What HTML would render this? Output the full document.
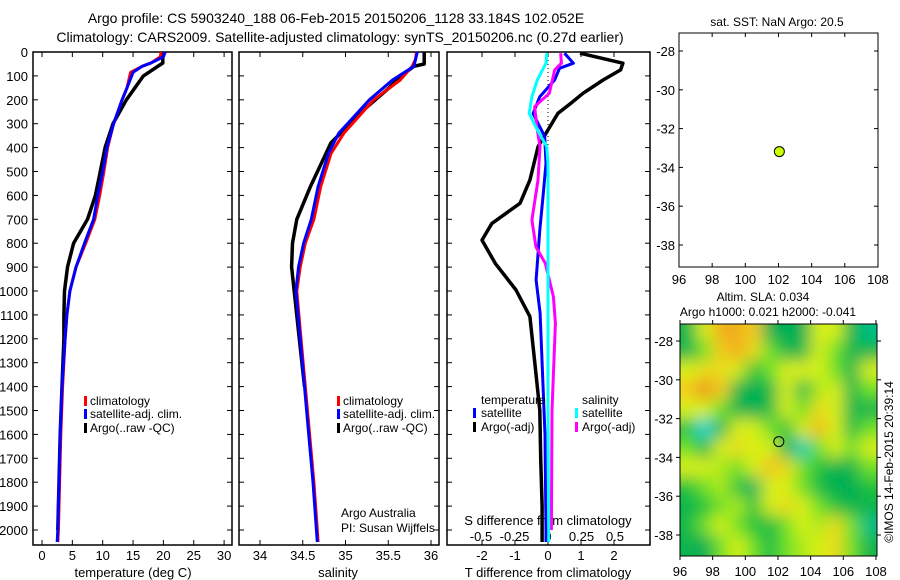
<!DOCTYPE html>
<html><head><meta charset="utf-8">
<style>
html,body{margin:0;padding:0;background:#fff;}
svg{display:block;font-family:"Liberation Sans",sans-serif;}
text{fill:#000;font-size:13px;}
</style></head>
<body>
<svg id="fig" width="900" height="580" viewBox="0 0 900 580" xmlns="http://www.w3.org/2000/svg">
<defs>
<filter id="blur" x="0" y="0" width="100%" height="100%"><feGaussianBlur stdDeviation="8"/></filter>
<clipPath id="mapclip"><rect x="680" y="324" width="197" height="232"/></clipPath>
</defs>
<text x="336" y="23" text-anchor="middle" style="font-size:14px">Argo profile: CS 5903240_188 06-Feb-2015 20150206_1128 33.184S 102.052E</text>
<text x="340" y="42" text-anchor="middle" style="font-size:14px">Climatology: CARS2009. Satellite-adjusted climatology: synTS_20150206.nc (0.27d earlier)</text>
<g id="layer"></g>
</svg>
<script>
// ---------- data ----------
const depthTicks = [0,100,200,300,400,500,600,700,800,900,1000,1100,1200,1300,1400,1500,1600,1700,1800,1900,2000];
const tempTicks = [0,5,10,15,20,25,30];
const salTicks = [34,34.5,35,35.5,36];
const salTickLabels = ["34","34.5","35","35.5","36"];
const tdiffTicks = [-2,-1,0,1,2];
const sdiffTicks = [-0.5,-0.25,0,0.25,0.5];
const sdiffTickLabels = ["-0.5","-0.25","0","0.25","0.5"];

const tDepthClim = [0,20,45,60,85,150,200,300,400,500,600,700,800,900,1000,1100,1200,1400,1600,1800,2000,2050];
const tempClim = [19.6,19.5,18.0,16.5,14.6,14.0,13.2,11.8,10.8,10.2,9.5,8.7,7.2,5.6,4.6,4.1,3.8,3.4,3.1,2.9,2.7,2.6];
const tempSat  = [20.3,20.0,18.0,16.5,15.0,14.0,13.2,11.8,10.7,10.0,9.2,8.5,7.0,5.6,4.6,4.1,3.8,3.3,3.0,2.8,2.6,2.5];
const tDepthArgo = [0,46,100,200,300,400,500,600,700,800,900,1000,1100,1200,1400,1600,1800,2000];
const tempArgo = [19.9,19.9,16.7,13.9,11.7,10.4,9.6,8.8,7.5,5.2,4.2,3.7,3.6,3.6,3.3,3.0,2.8,2.6];

const sDepth = [0,30,60,117,200,340,425,563,700,800,900,1000,1200,1400,1600,1800,2000,2050];
const salClim = [35.83,35.82,35.78,35.64,35.33,34.98,34.83,34.71,34.63,34.53,34.47,34.43,34.48,34.53,34.58,34.63,34.67,34.68];
const salSat  = [35.84,35.82,35.80,35.55,35.28,34.92,34.80,34.68,34.60,34.51,34.45,34.42,34.47,34.52,34.57,34.62,34.66,34.67];
const sDepthArgo = [0,50,60,100,160,243,380,563,700,800,900,1000,1200,1400];
const salArgo = [35.92,35.92,35.80,35.65,35.48,35.21,34.83,34.59,34.43,34.38,34.37,34.40,34.46,34.52];

const dDepthT = [5,47,75,117,173,208,257,326,396,536,633,717,787,884,996,1107,1300,1500,1700,1900,2050];
const tDiffArgo = [0.97,2.27,2.2,1.67,1.06,0.75,0.3,0.0,-0.3,-0.55,-0.85,-1.7,-2.0,-1.6,-0.97,-0.55,-0.4,-0.25,-0.22,-0.18,-0.18];
const dDepthTS = [5,47,68,117,187,257,354,466,605,745,954,1093,1300,1600,2000,2050];
const tDiffSat = [0.5,0.77,0.35,0.2,-0.25,-0.45,-0.1,-0.06,-0.15,-0.25,-0.36,-0.24,-0.18,-0.09,-0.06,-0.06];
const dDepthS = [5,47,117,187,257,326,396,466,605,884,1093,1500,2000,2050];
const sDiffSat = [-0.01,-0.015,-0.08,-0.12,-0.14,-0.08,-0.01,0.0,0.0,0.0,0.0,0.0,0.005,0.005];
const dDepthSA = [5,47,75,173,229,326,396,536,703,815,884,1024,1135,1500,2000];
const sDiffArgo = [0.095,0.1,0.05,0.01,-0.1,-0.08,-0.06,-0.075,-0.12,-0.09,-0.02,0.04,0.055,0.03,0.025];

const lonTicks = [96,98,100,102,104,106,108];
const latTicks = [-28,-30,-32,-34,-36,-38];
const floatLon = 102.052, floatLat = -33.184;
const slaLats = [-27,-28,-29,-30,-31,-32,-33,-34,-35,-36,-37,-38];
const slaLons = [96,97,98,99,100,101,102,103,104,105,106,107];
const slaRow0 = [-1,0.5,1.5,1.5,1,-1.2,-1.2,-1.2,0.5,0.5,-1,-1.5];
const slaRow1 = [-1,0,1,1.5,0.8,0,-1,-1,0.5,0,-1,-1];
const slaRow2 = [0.5,0.8,0.8,0.5,-0.5,0,0.5,0.5,0.5,0,-1,0.5];
const slaRow3 = [1,2,1,-1,-1.2,-1,0.5,-1,0.3,0.5,-1,0];
const slaRow4 = [0.5,0.5,0,-1,-1.2,-0.8,0.5,0,0.8,0.5,-1,-1];
const slaRow5 = [-0.5,-2,-1,0.5,0.5,0,-0.5,0.5,1.3,0.5,-0.8,0];
const slaRow6 = [0,-1,0.5,0.8,0.5,0.5,-1,-1.8,0,0.5,0,0.5];
const slaRow7 = [0.5,0.5,0.3,0,0.5,1.2,0.8,0,-0.5,-1,-1,0];
const slaRow8 = [-0.5,0,0.3,-0.5,-1.3,0.5,0.5,0,-0.8,-1.2,-1.2,-0.5];
const slaRow9 = [-1,-0.5,0,0.3,-0.5,0.5,0.8,0.5,0,-0.5,-1,-1];
const slaRow10 = [-0.8,0,0.5,0,-0.5,-0.8,0,0.5,0.3,0.8,0,-1.5];
const slaRow11 = [-1,-1.2,0,0.5,0,-0.8,0,0.3,0.5,0.8,0,-1];
const slaGrid = [slaRow0,slaRow1,slaRow2,slaRow3,slaRow4,slaRow5,slaRow6,slaRow7,slaRow8,slaRow9,slaRow10,slaRow11];

// ---------- helpers ----------
const NS = "http://www.w3.org/2000/svg";
const layer = document.getElementById('layer');
function mk(tag, attrs, parent) {
  const e = document.createElementNS(NS, tag);
  for (const k in attrs) e.setAttribute(k, attrs[k]);
  (parent || layer).appendChild(e);
  return e;
}
const TOP = 52, BOT = 545;
const yD = d => TOP + d * 0.239;
const xT = t => 42 + 6.07 * t;
const xS = s => 260 + 85.5 * (s - 34);
const xTd = v => 548 + 33 * v;
const xSd = v => 548 + 134 * v;

function frame(x0, x1, name) {
  const r = mk('rect', {x:x0, y:TOP, width:x1-x0, height:BOT-TOP, fill:'none', stroke:'#000', 'stroke-width':1.5});
  
  
  depthTicks.forEach(d => {
    mk('line', {x1:x0, x2:x0+5, y1:yD(d), y2:yD(d), stroke:'#000'});
    mk('line', {x1:x1, x2:x1-5, y1:yD(d), y2:yD(d), stroke:'#000'});
  });
}
function stepLine(xs, ds, fx, color, name, w) {
  let p = '';
  for (let i = 0; i < xs.length; i++) p += (i ? 'L' : 'M') + fx(xs[i]).toFixed(1) + ',' + yD(ds[i]).toFixed(1);
  const e = mk('path', {d:p, fill:'none', stroke:color, 'stroke-width':w || 3, 'stroke-linejoin':'round'});
  
  
}
function txt(x, y, s, name, anchor, size) {
  const e = mk('text', {x:x, y:y, 'text-anchor':anchor || 'start'});
  if (size) e.style.fontSize = size + 'px';
  e.textContent = s;
  
  
  return e;
}
function legendBar(x, y, color) {
  const e = mk('rect', {x:x, y:y-9, width:3, height:10, fill:color});
  
  
}

// ---------- panel 1: temperature ----------
frame(33, 232, 'temperature-plot-frame');
depthTicks.forEach(d => txt(28, yD(d) + 5, String(d), 'depth-tick-label', 'end'));
tempTicks.forEach(t => {
  mk('line', {x1:xT(t), x2:xT(t), y1:TOP, y2:TOP+5, stroke:'#000'});
  mk('line', {x1:xT(t), x2:xT(t), y1:BOT, y2:BOT-5, stroke:'#000'});
  txt(xT(t), 560, String(t), 'temperature-tick-label', 'middle');
});
txt(133, 577, 'temperature (deg C)', 'x-axis-title-temperature', 'middle');
stepLine(tempArgo, tDepthArgo, xT, '#000', 'argo-temperature-line', 3.5);
stepLine(tempClim, tDepthClim, xT, '#f00', 'climatology-temperature-line');
stepLine(tempSat, tDepthClim, xT, '#00f', 'satellite-temperature-line');
legendBar(84, 405, '#f00'); txt(90, 405, 'climatology', 'legend-climatology', 'start', 12);
legendBar(84, 418, '#00f'); txt(90, 418, 'satellite-adj. clim.', 'legend-satellite-adj', 'start', 12);
legendBar(84, 432, '#000'); txt(90, 432, 'Argo(..raw -QC)', 'legend-argo', 'start', 12);

// ---------- panel 2: salinity ----------
frame(239, 439, 'salinity-plot-frame');
salTicks.forEach((s, i) => {
  mk('line', {x1:xS(s), x2:xS(s), y1:TOP, y2:TOP+5, stroke:'#000'});
  mk('line', {x1:xS(s), x2:xS(s), y1:BOT, y2:BOT-5, stroke:'#000'});
  txt(xS(s), 560, salTickLabels[i], 'salinity-tick-label', 'middle');
});
txt(338, 577, 'salinity', 'x-axis-title-salinity', 'middle');
stepLine(salArgo, sDepthArgo, xS, '#000', 'argo-salinity-line', 3.5);
stepLine(salClim, sDepth, xS, '#f00', 'climatology-salinity-line');
stepLine(salSat, sDepth, xS, '#00f', 'satellite-salinity-line');
legendBar(337, 405, '#f00'); txt(343, 405, 'climatology', 'legend-climatology', 'start', 12);
legendBar(337, 418, '#00f'); txt(343, 418, 'satellite-adj. clim.', 'legend-satellite-adj', 'start', 12);
legendBar(337, 432, '#000'); txt(343, 432, 'Argo(..raw -QC)', 'legend-argo', 'start', 12);
txt(341, 517, 'Argo Australia', 'credit-argo-australia', 'start', 12);
txt(341, 532, 'PI: Susan Wijffels', 'credit-pi', 'start', 12);

// ---------- panel 3: differences ----------
frame(447, 650, 'difference-plot-frame');
mk('line', {x1:548, x2:548, y1:TOP, y2:BOT, stroke:'#000', 'stroke-dasharray':'1,3'});
tdiffTicks.forEach(v => {
  mk('line', {x1:xTd(v), x2:xTd(v), y1:BOT, y2:BOT-5, stroke:'#000'});
  mk('line', {x1:xTd(v), x2:xTd(v), y1:TOP, y2:TOP+5, stroke:'#000'});
  txt(xTd(v), 560, String(v), 'tdiff-tick-label', 'middle');
});
sdiffTicks.forEach((v, i) => txt(xSd(v), 541, sdiffTickLabels[i], 'sdiff-tick-label', 'middle'));
txt(548, 525, 'S difference from climatology', 'sdiff-axis-title', 'middle');
txt(548, 577, 'T difference from climatology', 'tdiff-axis-title', 'middle');
stepLine(tDiffArgo, dDepthT, xTd, '#000', 'argo-tdiff-line', 3.5);
stepLine(tDiffSat, dDepthTS, xTd, '#00f', 'satellite-tdiff-line');
stepLine(sDiffArgo, dDepthSA, xSd, '#f0f', 'argo-sdiff-line');
stepLine(sDiffSat, dDepthS, xSd, '#0ff', 'satellite-sdiff-line');
txt(481, 404, 'temperature', 'legend-title-temperature', 'start', 12);
legendBar(473, 417, '#00f'); txt(481, 417, 'satellite', 'legend-t-satellite', 'start', 12);
legendBar(473, 431, '#000'); txt(481, 431, 'Argo(-adj)', 'legend-t-argo', 'start', 12);
txt(582, 404, 'salinity', 'legend-title-salinity', 'start', 12);
legendBar(575, 417, '#0ff'); txt(582, 417, 'satellite', 'legend-s-satellite', 'start', 12);
legendBar(575, 431, '#f0f'); txt(582, 431, 'Argo(-adj)', 'legend-s-argo', 'start', 12);

// ---------- map 1: SST ----------
const m1x = lon => 679 + (lon - 96) * 16.58;
const m1y = lat => 51 + (-28 - lat) * 19.4;
const mf1 = mk('rect', {x:679, y:33, width:199, height:234, fill:'#fff', stroke:'#000'});


lonTicks.forEach(l => {
  mk('line', {x1:m1x(l), x2:m1x(l), y1:33, y2:37, stroke:'#000'});
  mk('line', {x1:m1x(l), x2:m1x(l), y1:267, y2:263, stroke:'#000'});
  txt(m1x(l), 284, String(l), 'sst-lon-label', 'middle');
});
latTicks.forEach(l => {
  mk('line', {x1:679, x2:683, y1:m1y(l), y2:m1y(l), stroke:'#000'});
  mk('line', {x1:878, x2:874, y1:m1y(l), y2:m1y(l), stroke:'#000'});
  txt(675, m1y(l) + 5, String(l), 'sst-lat-label', 'end');
});
const dot1 = mk('circle', {cx:m1x(floatLon), cy:m1y(floatLat), r:5, fill:'#ccff00', stroke:'#000'});


txt(777, 26, 'sat. SST: NaN Argo: 20.5', 'sst-map-title', 'middle', 12);

// ---------- map 2: SLA ----------
const m2x = lon => 680 + (lon - 96) * 16.33;
const m2y = lat => 341 + (-28 - lat) * 19.4;
const stops = [[-2,[0,215,215]],[-1.2,[0,175,85]],[-0.5,[30,195,60]],[0,[110,225,40]],[0.5,[215,240,20]],[1,[245,205,30]],[2,[235,145,30]]];
function col(v) {
  if (v <= stops[0][0]) return 'rgb(' + stops[0][1] + ')';
  for (let i = 1; i < stops.length; i++) {
    if (v <= stops[i][0]) {
      const a = stops[i-1], b = stops[i], f = (v - a[0]) / (b[0] - a[0]);
      return 'rgb(' + a[1].map((c, j) => Math.round(c + (b[1][j] - c) * f)).join(',') + ')';
    }
  }
  return 'rgb(' + stops[stops.length-1][1] + ')';
}
const mapG = mk('g', {'clip-path':'url(#mapclip)'});
const bg = mk('rect', {x:680, y:324, width:197, height:232, fill:col(0)}, mapG);


const cellG = mk('g', {filter:'url(#blur)'}, mapG);
slaGrid.forEach((row, r) => row.forEach((v, c) => {
  const x0 = m2x(slaLons[c]), y0 = m2y(slaLats[r]);
  const padL = c === 0 ? 30 : 0, padR = c === 11 ? 30 : 0, padT = r === 0 ? 30 : 0, padB = r === 11 ? 30 : 0;
  const cell = mk('rect', {x:x0 - padL, y:y0 - padT, width:m2x(slaLons[c] + 1) - x0 + 0.5 + padL + padR, height:m2y(slaLats[r] - 1) - y0 + 0.5 + padT + padB, fill:col(v)}, cellG);
  
  
}));
const mf2 = mk('rect', {x:680, y:324, width:197, height:232, fill:'none', stroke:'#000'});


lonTicks.forEach(l => {
  mk('line', {x1:m2x(l), x2:m2x(l), y1:324, y2:320, stroke:'#000'});
  mk('line', {x1:m2x(l), x2:m2x(l), y1:556, y2:560, stroke:'#000'});
  txt(m2x(l), 576, String(l), 'sla-lon-label', 'middle');
});
latTicks.forEach(l => {
  mk('line', {x1:680, x2:676, y1:m2y(l), y2:m2y(l), stroke:'#000'});
  mk('line', {x1:877, x2:881, y1:m2y(l), y2:m2y(l), stroke:'#000'});
  txt(673, m2y(l) + 5, String(l), 'sla-lat-label', 'end');
});
const dot2 = mk('circle', {cx:m2x(floatLon), cy:m2y(floatLat), r:5, fill:'none', stroke:'#000'});


txt(763, 301, 'Altim. SLA: 0.034', 'sla-title-line-1', 'middle', 12);
txt(768, 316, 'Argo h1000: 0.021 h2000: -0.041', 'sla-title-line-2', 'middle', 12);
const cr = txt(0, 0, '\u00a9IMOS 14-Feb-2015 20:39:14', 'imos-timestamp', 'middle', 12);
cr.setAttribute('transform', 'translate(893,462) rotate(-90)');
</script>
</body></html>
